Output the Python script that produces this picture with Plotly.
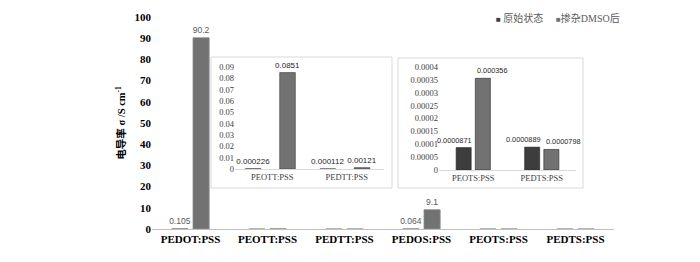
import numpy as np
import plotly.graph_objects as go

# ---------------- data ----------------
categories = ["PEDOT:PSS", "PEOTT:PSS", "PEDTT:PSS", "PEDOS:PSS", "PEOTS:PSS", "PEDTS:PSS"]
series_names = ["原始状态", "掺杂DMSO后"]
pristine = [0.105, 0.000226, 0.000112, 0.064, 0.0000871, 0.0000889]
dmso = [90.2, 0.0851, 0.00121, 9.1, 0.000356, 0.0000798]
main_labeled = ["PEDOT:PSS", "PEDOS:PSS"]
inset1_categories = ["PEOTT:PSS", "PEDTT:PSS"]
inset2_categories = ["PEOTS:PSS", "PEDTS:PSS"]
main_yticks = [0, 10, 20, 30, 40, 50, 60, 70, 80, 90, 100]
inset1_yticks = [0, 0.01, 0.02, 0.03, 0.04, 0.05, 0.06, 0.07, 0.08, 0.09]
inset2_yticks = [0, 0.00005, 0.0001, 0.00015, 0.0002, 0.00025, 0.0003, 0.00035, 0.0004]
y_title = "电导率 σ /S cm<sup>-1</sup>"

# ---------------- style ----------------
W, H = 700, 262
DARK = "#3d3d3d"
GRAY = "#727272"
SERIF = "Liberation Serif, Times New Roman, Noto Sans CJK SC, serif"
SANS = "Liberation Sans, Arial, sans-serif"


def fx(a, b):
    return [a / W, b / W]


def fy(top, bottom):
    return [1 - bottom / H, 1 - top / H]


def fmt(v):
    return np.format_float_positional(v, trim="-")


def pick(cats, values):
    return [values[categories.index(c)] for c in cats]


fig = go.Figure()

# main chart: labelled categories carry value labels, others none
main_unlabeled = [c for c in categories if c not in main_labeled]
main_specs = [
    (series_names[0], pristine, DARK, -0.2425),
    (series_names[1], dmso, GRAY, 0.0325),
]
for name, vals, color, off in main_specs:
    for cats, with_text in [(main_labeled, True), (main_unlabeled, False)]:
        yv = pick(cats, vals)
        kw = dict(
            x=cats, y=yv, name=name,
            marker=dict(color=color, line=dict(color="#8c8c8c", width=0.8)),
            width=0.21, offset=off,
            xaxis="x", yaxis="y", showlegend=False,
        )
        if with_text:
            kw.update(text=[fmt(v) for v in yv], textposition="outside",
                      constraintext="none", cliponaxis=False,
                      textfont=dict(family=SANS, size=8.5, color="#595959"))
        fig.add_trace(go.Bar(**kw))

# inset 1
for name, vals, color, off in [
    (series_names[0], pristine, DARK, -0.36),
    (series_names[1], dmso, GRAY, 0.10),
]:
    yv = pick(inset1_categories, vals)
    fig.add_trace(go.Bar(
        x=inset1_categories, y=yv, name=name,
        marker=dict(color=color, line=dict(color="#404040", width=0.6)),
        width=0.21, offset=off,
        text=[fmt(v) for v in yv],
        textposition="outside", constraintext="none", cliponaxis=False,
        textfont=dict(family=SANS, size=8, color="#262626"),
        xaxis="x2", yaxis="y2", showlegend=False,
    ))

# inset 2 (labels placed as annotations so they don't collide, as in the original)
W3, G3 = 0.22, 0.03
inset2_annotations = []
for name, vals, color, off, anchor, shift in [
    (series_names[0], pristine, DARK, -(W3 + G3), "right", 3),
    (series_names[1], dmso, GRAY, G3, "left", 0),
]:
    yv = pick(inset2_categories, vals)
    fig.add_trace(go.Bar(
        x=inset2_categories, y=yv, name=name,
        marker=dict(color=color, line=dict(color="#262626", width=0.6)),
        width=W3, offset=off,
        xaxis="x3", yaxis="y3", showlegend=False,
    ))
    for i, v in enumerate(yv):
        xpos = i + off + (W3 if anchor == "right" else 0)
        inset2_annotations.append(dict(
            xref="x3", yref="y3", x=xpos, y=v, xanchor=anchor, yanchor="bottom",
            xshift=shift, yshift=1, showarrow=False, text=fmt(v),
            font=dict(family=SANS, size=7.3, color="#262626"),
        ))

inset_tickfont = dict(family=SERIF, size=8.5, color="#404040")

fig.update_layout(
    template="none",
    width=W, height=H,
    margin=dict(l=0, r=0, t=0, b=0),
    paper_bgcolor="white", plot_bgcolor="rgba(0,0,0,0)",
    barmode="group",
    showlegend=False,
    xaxis=dict(domain=fx(152, 614), type="category", categoryorder="array",
               categoryarray=categories, showline=True, linecolor="#bfbfbf",
               linewidth=1, ticks="", showgrid=False, zeroline=False, automargin=False,
               tickfont=dict(family=SERIF, size=11, color="#000000", weight="bold")),
    yaxis=dict(domain=fy(17, 229), range=[0, 100], tickvals=main_yticks, showline=False,
               ticks="", showgrid=False, zeroline=False, automargin=False,
               tickfont=dict(family=SERIF, size=11, color="#000000", weight="bold"),
               title=dict(text=y_title, standoff=6,
                          font=dict(family=SERIF, size=10.5, color="#000000", weight="bold"))),
    xaxis2=dict(domain=fx(235, 384), type="category", showline=True, linecolor="#d9d9d9",
                ticks="", showgrid=False, zeroline=False, automargin=False, anchor="y2",
                tickfont=inset_tickfont),
    yaxis2=dict(domain=fy(67, 169), range=[0, 0.09], tickvals=inset1_yticks, tickformat=".2~f",
                showline=False, ticks="", showgrid=False, zeroline=False, automargin=False,
                anchor="x2", tickfont=inset_tickfont),
    xaxis3=dict(domain=fx(439, 576), type="category", categoryorder="array",
                categoryarray=inset2_categories, range=[-0.5, 1.5],
                showline=True, linecolor="#d9d9d9",
                ticks="", showgrid=False, zeroline=False, automargin=False, anchor="y3",
                tickfont=inset_tickfont),
    yaxis3=dict(domain=fy(67, 170), range=[0, 0.0004], tickvals=inset2_yticks, tickformat=".5~f",
                showline=False, ticks="", showgrid=False, zeroline=False, automargin=False,
                anchor="x3", tickfont=inset_tickfont),
    shapes=[
        dict(type="rect", xref="paper", yref="paper", layer="below",
             x0=211 / W, x1=392 / W, y0=1 - 188 / H, y1=1 - 57 / H,
             line=dict(color="#d9d9d9", width=1), fillcolor="white"),
        dict(type="rect", xref="paper", yref="paper", layer="below",
             x0=398 / W, x1=583 / W, y0=1 - 188 / H, y1=1 - 58 / H,
             line=dict(color="#d9d9d9", width=1), fillcolor="white"),
    ],
    annotations=[
        dict(xref="paper", yref="paper", x=494 / W, y=1 - 18 / H, xanchor="left", yanchor="middle",
             showarrow=False,
             text=f"<span style='color:{DARK};font-size:8px'>■</span> {series_names[0]}",
             font=dict(family=SERIF, size=10, color="#595959")),
        dict(xref="paper", yref="paper", x=554 / W, y=1 - 18 / H, xanchor="left", yanchor="middle",
             showarrow=False,
             text=f"<span style='color:{GRAY};font-size:8px'>■</span>{series_names[1]}",
             font=dict(family=SERIF, size=10, color="#595959")),
    ] + inset2_annotations,
)

fig.write_html("out.html", config={"displayModeBar": False},
               post_script="document.body.style.margin='0';document.body.style.overflow='hidden';")
